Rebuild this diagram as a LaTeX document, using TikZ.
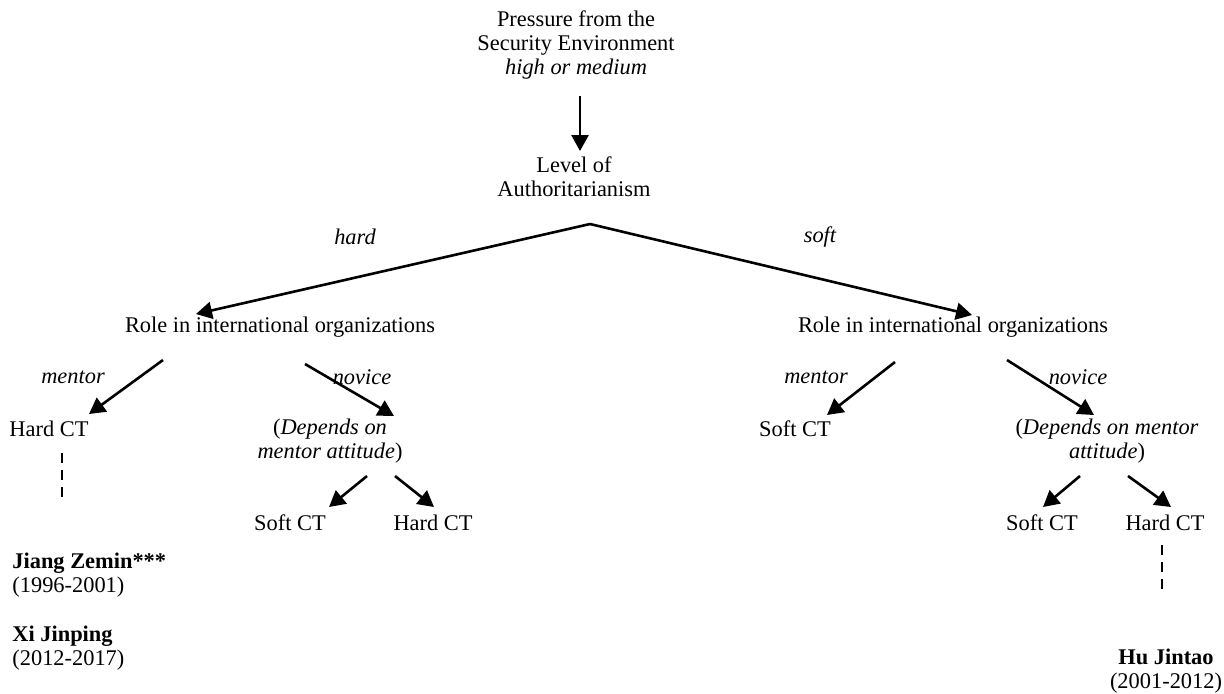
\documentclass[tikz,border=0pt]{standalone}
\usepackage{fontspec}
\setmainfont{Liberation Serif}
\usetikzlibrary{arrows.meta}
\tikzset{
  txt/.style={inner sep=0pt, font=\fontsize{11.2}{12}\selectfont, align=center},
  lbl/.style={inner sep=0pt, font=\fontsize{11.2}{12}\selectfont\itshape},
  arr/.style={line width=1.3pt, -{Triangle[length=8pt,width=8.5pt]}},
  dsh/.style={line width=1.2pt, dash pattern=on 5pt off 3.5pt},
}
\begin{document}
\begin{tikzpicture}[x=0.5pt,y=-0.5pt]
\useasboundingbox (0,0) rectangle (1224,693);
% top
\node[txt] (press) at (576,45) {Pressure from the\\Security Environment\\\textit{high or medium}};
\node[txt] (level) at (574,177) {Level of\\Authoritarianism};
\coordinate (pS) at (580,96);
\coordinate (pE) at (580,151);
\draw[arr] (pS) -- (pE);
\coordinate (apex) at (590,224);
% second level
\node[txt] (roleL) at (280,327) {Role in international organizations};
\node[txt] (roleR) at (953,327) {Role in international organizations};
\coordinate (roleLt) at (196,314);
\coordinate (roleRt) at (972,315);
\draw[arr] (apex) -- (roleLt);
\draw[arr] (apex) -- (roleRt);
\node[lbl] (hard) at (355,237) {hard};
\node[lbl] (soft) at (820,237) {soft};
% left subtree
\node[txt] (hardL) at (49,429) {Hard CT};
\node[txt] (depL) at (330,441) {(\textit{Depends on}\\\textit{mentor attitude})};
\coordinate (lmS) at (163,360);
\coordinate (lmE) at (89,414);
\coordinate (lnS) at (305,364);
\coordinate (lnE) at (394,416);
\draw[arr] (lmS) -- (lmE);
\draw[arr] (lnS) -- (lnE);
\node[lbl] (mentorL) at (73,377) {mentor};
\node[lbl] (noviceL) at (362,377) {novice};
\coordinate (ldS) at (62,453);
\coordinate (ldE) at (62,500);
\draw[dsh] (ldS) -- (ldE);
\node[txt] (softLL) at (290,523) {Soft CT};
\node[txt] (hardLR) at (433,523) {Hard CT};
\coordinate (l1S) at (367,476);
\coordinate (l1E) at (329,507);
\coordinate (l2S) at (395,476);
\coordinate (l2E) at (434,507);
\draw[arr] (l1S) -- (l1E);
\draw[arr] (l2S) -- (l2E);
\node[txt, anchor=west, align=left] (jiang) at (12,575) {\textbf{Jiang Zemin***}\\(1996-2001)};
\node[txt, anchor=west, align=left] (xi) at (12,648) {\textbf{Xi Jinping}\\(2012-2017)};
% right subtree
\node[txt] (softR) at (795,429) {Soft CT};
\node[txt] (depR) at (1107,441) {(\textit{Depends on mentor}\\\textit{attitude})};
\coordinate (rmS) at (895,362);
\coordinate (rmE) at (827,415);
\coordinate (rnS) at (1007,360);
\coordinate (rnE) at (1094,415);
\draw[arr] (rmS) -- (rmE);
\draw[arr] (rnS) -- (rnE);
\node[lbl] (mentorR) at (816,377) {mentor};
\node[lbl] (noviceR) at (1078,377) {novice};
\node[txt] (softRL) at (1042,523) {Soft CT};
\node[txt] (hardRR) at (1165,523) {Hard CT};
\coordinate (r1S) at (1080,476);
\coordinate (r1E) at (1043,507);
\coordinate (r2S) at (1128,476);
\coordinate (r2E) at (1171,507);
\draw[arr] (r1S) -- (r1E);
\draw[arr] (r2S) -- (r2E);
\coordinate (rdS) at (1162,545);
\coordinate (rdE) at (1162,590);
\draw[dsh] (rdS) -- (rdE);
\node[txt] (hu) at (1166,671) {\textbf{Hu Jintao}\\(2001-2012)};
\end{tikzpicture}
\end{document}
